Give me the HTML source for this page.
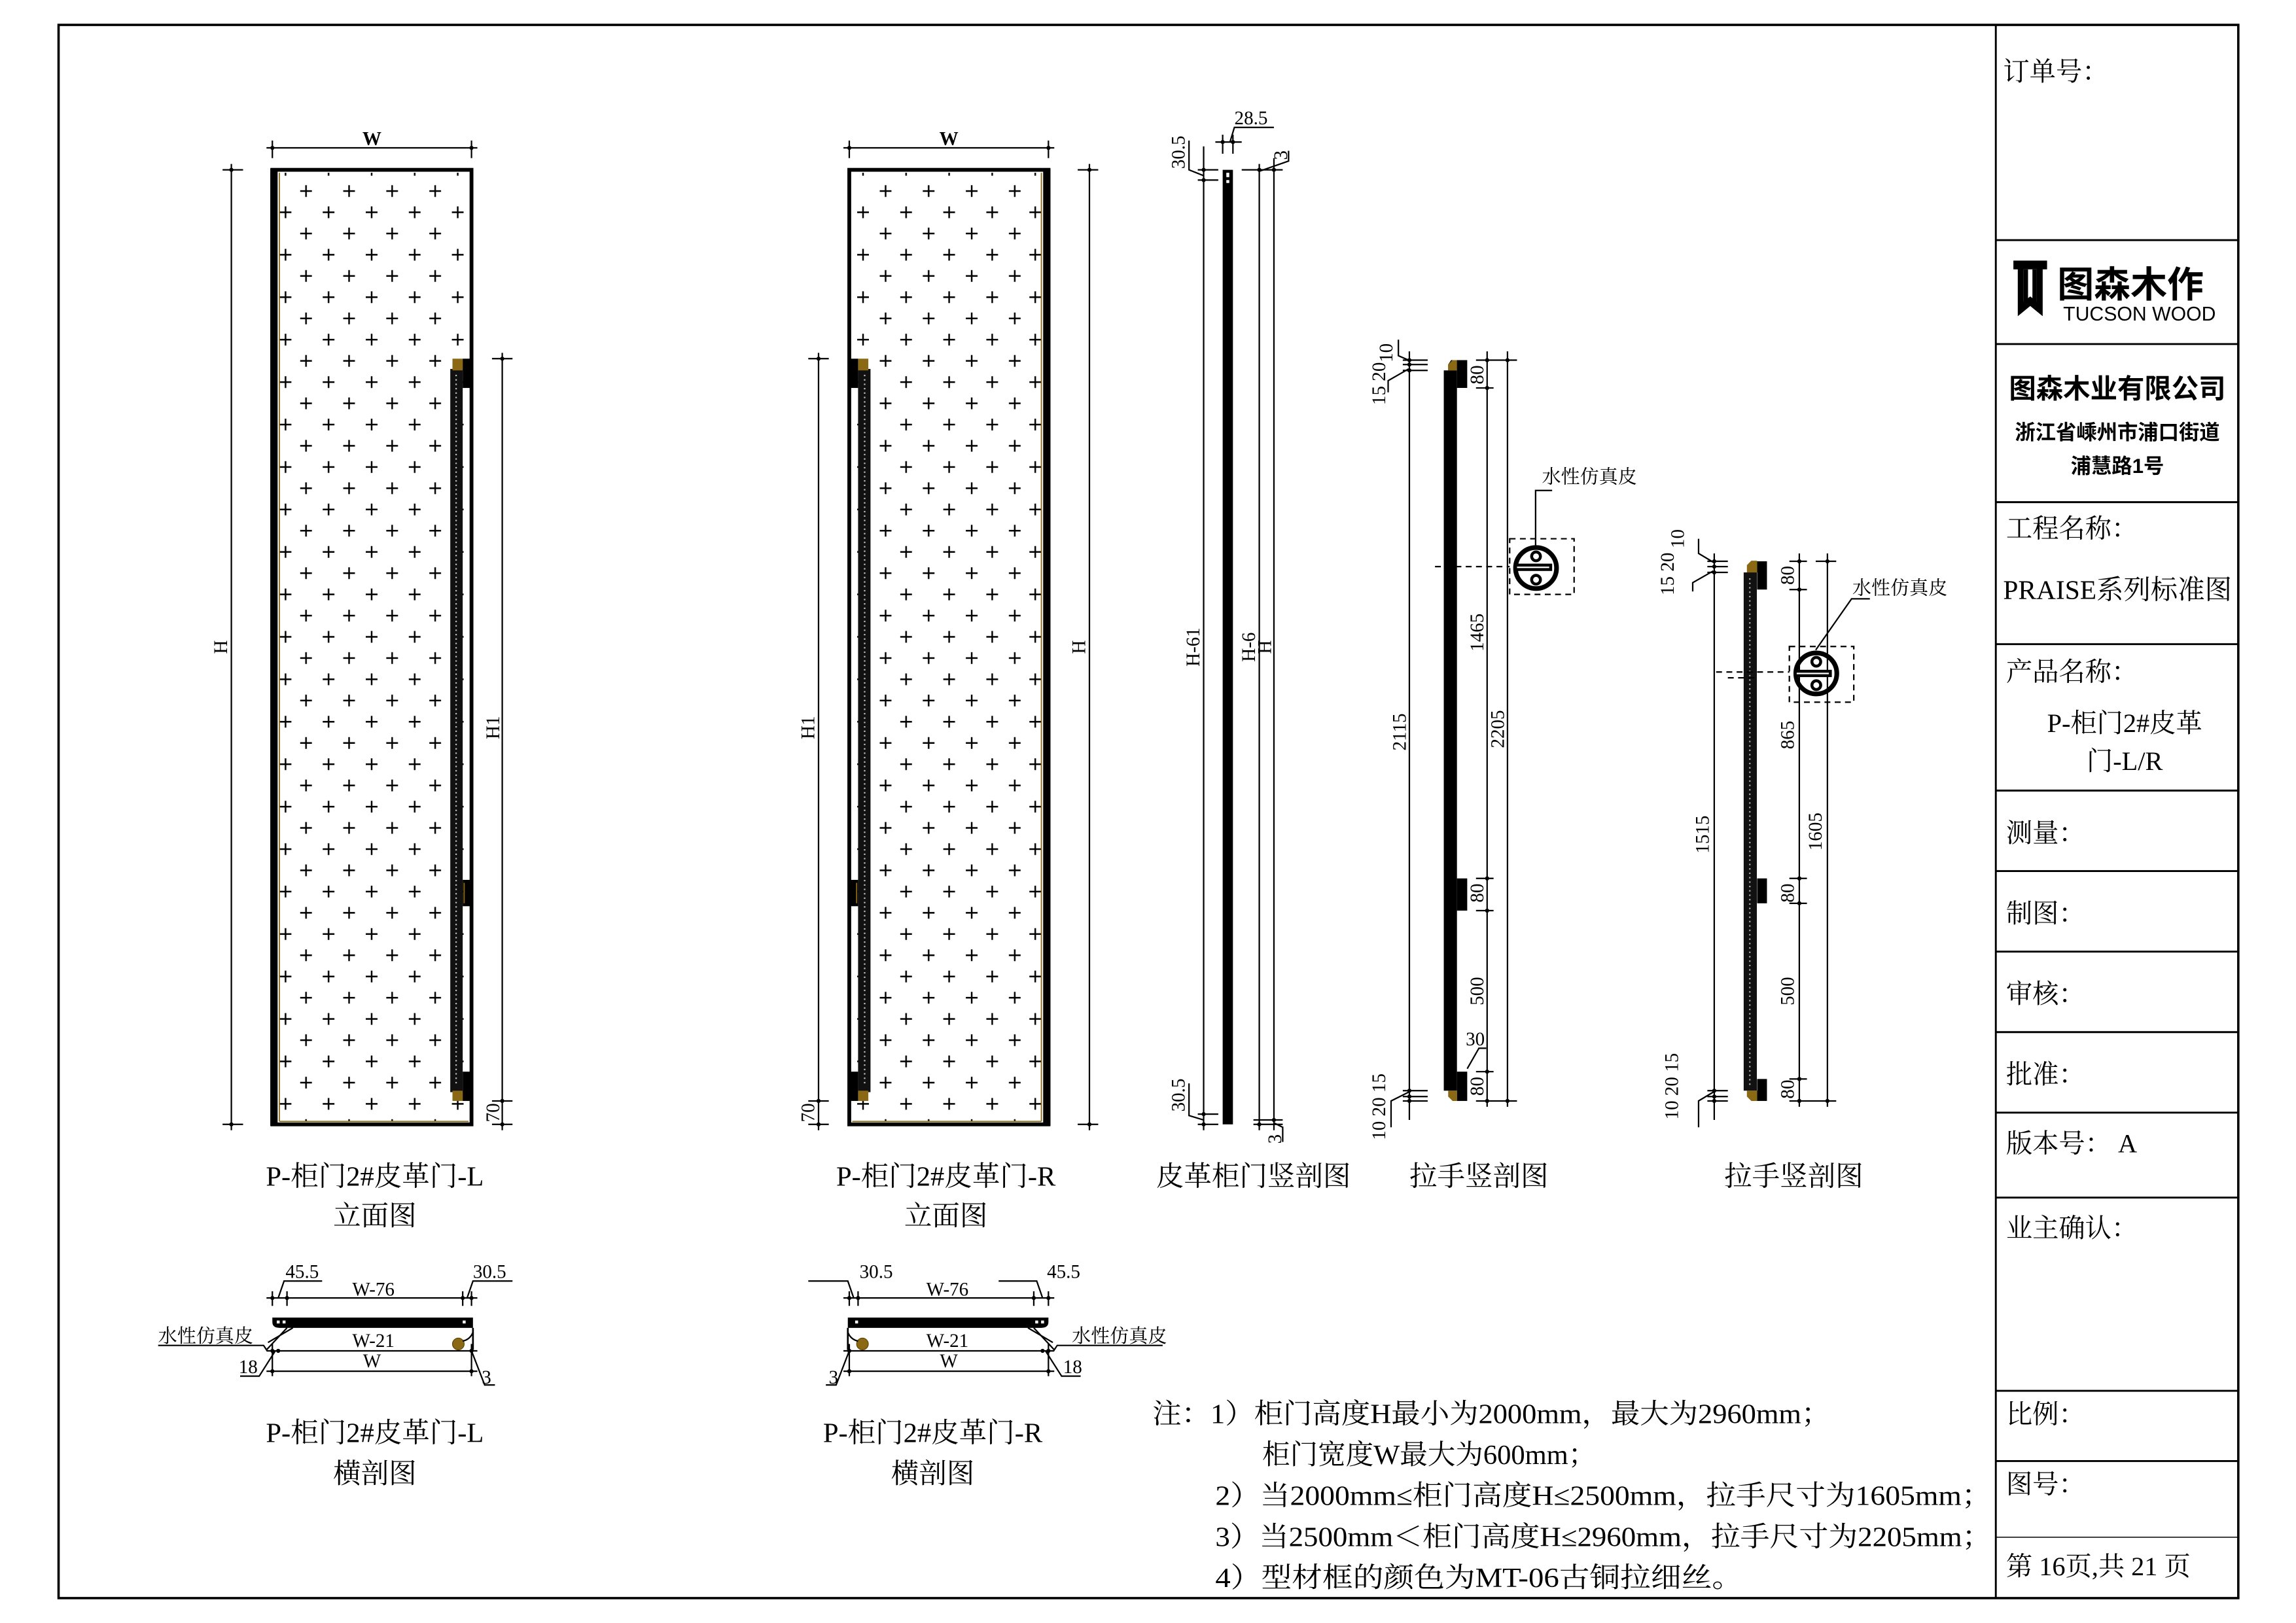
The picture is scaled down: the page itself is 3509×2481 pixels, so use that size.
<!DOCTYPE html>
<html><head><meta charset="utf-8">
<style>
html,body{margin:0;padding:0;background:#fff;}
svg{display:block;}
.s{font-family:"Liberation Serif","Noto Serif CJK SC",serif;fill:#000;}
.b{font-family:"Liberation Sans","Noto Sans CJK SC",sans-serif;font-weight:bold;fill:#000;}
.d{font-family:"Liberation Serif","Noto Serif CJK SC",serif;font-size:13px;fill:#000;}
</style></head>
<body>
<svg width="3509" height="2481" viewBox="0 0 1568 1108.6" preserveAspectRatio="none" xmlns="http://www.w3.org/2000/svg">
<defs>
<pattern id="cr" patternUnits="userSpaceOnUse" x="187.65" y="123.25" width="29.4" height="29">
<path d="M17.35 7.25h8M21.35 3.25v8M3.35 21.75h8M7.35 17.75v8" stroke="#000" stroke-width="1.1"/>
</pattern>
<g id="dot"><circle r="1.4" fill="#000"/></g>
</defs>
<rect width="1568" height="1108.6" fill="#fff"/>
<rect x="40" y="17" width="1488.6" height="1074.6" fill="none" stroke="#000" stroke-width="1.6"/>
<line x1="1363" y1="17" x2="1363" y2="1091.6" stroke="#000" stroke-width="1.3"/>
<g stroke="#000" stroke-width="1.3">
<line x1="1363" y1="164" x2="1528" y2="164"/>
<line x1="1363" y1="235" x2="1528" y2="235"/>
<line x1="1363" y1="343" x2="1528" y2="343"/>
<line x1="1363" y1="440" x2="1528" y2="440"/>
<line x1="1363" y1="540" x2="1528" y2="540"/>
<line x1="1363" y1="595" x2="1528" y2="595"/>
<line x1="1363" y1="650" x2="1528" y2="650"/>
<line x1="1363" y1="705" x2="1528" y2="705"/>
<line x1="1363" y1="760" x2="1528" y2="760"/>
<line x1="1363" y1="818" x2="1528" y2="818"/>
<line x1="1363" y1="950" x2="1528" y2="950"/>
<line x1="1363" y1="998" x2="1528" y2="998"/>
<line x1="1363" y1="1050" x2="1528" y2="1050" stroke-width="0.7"/>
</g>
<text class="s" x="1368" y="55" font-size="18">订单号：</text>
<path d="M1375 178h23v6h-3v32l-8.5-7-8.5 7v-32h-3z M1382 184v22l4.5-3.5 4.5 3.5v-22z" fill="#000" fill-rule="evenodd"/>
<path d="M1382 184h3v22h-3zM1388 184h3v22h-3z" fill="#000"/>
<text class="b" x="1405" y="203" font-size="25">图森木作</text>
<text x="1409" y="219" font-family="Liberation Sans,sans-serif" font-size="13.5" fill="#000">TUCSON WOOD</text>
<text class="b" x="1446" y="272" font-size="18.5" text-anchor="middle">图森木业有限公司</text>
<text class="b" x="1446" y="300" font-size="14" text-anchor="middle">浙江省嵊州市浦口街道</text>
<text class="b" x="1446" y="323" font-size="14" text-anchor="middle">浦慧路1号</text>
<text class="s" x="1370" y="367" font-size="18">工程名称：</text>
<text class="s" x="1368" y="409" font-size="18.5">PRAISE系列标准图</text>
<text class="s" x="1370" y="465" font-size="18">产品名称：</text>
<text class="s" x="1451" y="500" font-size="18" text-anchor="middle">P-柜门2#皮革</text>
<text class="s" x="1451" y="526" font-size="18" text-anchor="middle">门-L/R</text>
<text class="s" x="1370" y="575" font-size="18">测量：</text>
<text class="s" x="1370" y="630" font-size="18">制图：</text>
<text class="s" x="1370" y="685" font-size="18">审核：</text>
<text class="s" x="1370" y="740" font-size="18">批准：</text>
<text class="s" x="1370" y="787" font-size="18">版本号：  A</text>
<text class="s" x="1370" y="845" font-size="18">业主确认：</text>
<text class="s" x="1370" y="972" font-size="18">比例：</text>
<text class="s" x="1370" y="1020" font-size="18">图号：</text>
<text class="s" x="1370" y="1076" font-size="18">第 16页,共 21 页</text>

<g id="doorL">
<rect x="190" y="118" width="130" height="648" fill="url(#cr)"/>
<rect x="186" y="116" width="136" height="652" fill="none" stroke="#000" stroke-width="2.6"/>
<rect x="184.6" y="115" width="5" height="654" fill="#000"/>
<line x1="190.8" y1="118" x2="190.8" y2="766" stroke="#8B6914" stroke-width="0.8"/>
<line x1="190.8" y1="766" x2="320" y2="766" stroke="#8B6914" stroke-width="0.8"/>
<rect x="307.5" y="252" width="8.5" height="494" fill="#111"/>
<line x1="311.5" y1="256" x2="311.5" y2="742" stroke="#bbb" stroke-width="1" stroke-dasharray="1 2"/>
<rect x="309" y="245" width="7" height="8" fill="#8B6914"/>
<rect x="316" y="245" width="6" height="20" fill="#000"/>
<rect x="316" y="601" width="6" height="18" fill="#000"/>
<line x1="317" y1="603" x2="317" y2="617" stroke="#8B6914" stroke-width="0.8"/>
<rect x="309" y="745" width="7" height="7" fill="#8B6914"/>
<rect x="316" y="732" width="6" height="20" fill="#000"/>
<g stroke="#000" stroke-width="1">
<line x1="182" y1="101" x2="326" y2="101"/>
<line x1="186" y1="96" x2="186" y2="108"/><line x1="322" y1="96" x2="322" y2="108"/>
<line x1="158" y1="112" x2="158" y2="772"/>
<line x1="152" y1="116" x2="166" y2="116"/><line x1="152" y1="768" x2="166" y2="768"/>
<line x1="343" y1="241" x2="343" y2="772"/>
<line x1="336" y1="245" x2="350" y2="245"/><line x1="336" y1="752" x2="350" y2="752"/><line x1="336" y1="768" x2="350" y2="768"/>
</g>
<use href="#dot" x="186" y="101"/><use href="#dot" x="322" y="101"/>
<use href="#dot" x="158" y="116"/><use href="#dot" x="158" y="768"/>
<use href="#dot" x="343" y="245"/><use href="#dot" x="343" y="752"/><use href="#dot" x="343" y="768"/>
</g>
<g transform="translate(902,0) scale(-1,1)">
<use href="#doorL"/>
</g>
<text class="d" x="254" y="99" text-anchor="middle" font-weight="bold">W</text>
<text class="d" transform="translate(155,442) rotate(-90)" text-anchor="middle" font-size="14">H</text>
<text class="d" transform="translate(341,497) rotate(-90)" text-anchor="middle" font-size="14">H1</text>
<text class="d" transform="translate(341,760) rotate(-90)" text-anchor="middle">70</text>
<text class="d" x="648" y="99" text-anchor="middle" font-weight="bold">W</text>
<text class="d" transform="translate(741,442) rotate(-90)" text-anchor="middle" font-size="14">H</text>
<text class="d" transform="translate(556,497) rotate(-90)" text-anchor="middle" font-size="14">H1</text>
<text class="d" transform="translate(556,760) rotate(-90)" text-anchor="middle">70</text>

<rect x="835" y="116" width="7" height="652" fill="#000"/>
<rect x="837.5" y="118" width="2" height="3" fill="#fff"/><rect x="837.5" y="123" width="2" height="2" fill="#fff"/>
<g stroke="#000" stroke-width="1">
<line x1="822" y1="100" x2="822" y2="772"/>
<line x1="818" y1="116" x2="832" y2="116"/><line x1="818" y1="123" x2="832" y2="123"/>
<line x1="818" y1="761" x2="832" y2="761"/><line x1="818" y1="768" x2="832" y2="768"/>
<line x1="860" y1="112" x2="860" y2="772"/><line x1="870" y1="108" x2="870" y2="772"/>
<line x1="848" y1="116" x2="876" y2="116"/><line x1="856" y1="765" x2="876" y2="765"/><line x1="856" y1="768" x2="876" y2="768"/>
<line x1="830" y1="97" x2="848" y2="97"/>
<line x1="835" y1="92" x2="835" y2="105"/><line x1="842" y1="92" x2="842" y2="105"/>
<polyline points="840,97 843,87 870,87" fill="none"/>
<polyline points="822,120 812,116 812,96" fill="none"/>
<polyline points="860,117 880,110 880,103" fill="none"/>
<polyline points="822,765 812,762 812,740" fill="none"/>
<polyline points="870,767 876,770 876,780" fill="none"/>
</g>
<use href="#dot" x="822" y="116"/><use href="#dot" x="822" y="123"/><use href="#dot" x="835" y="97"/><use href="#dot" x="842" y="97"/>
<use href="#dot" x="860" y="116"/><use href="#dot" x="870" y="116"/><use href="#dot" x="822" y="761"/><use href="#dot" x="822" y="768"/><use href="#dot" x="860" y="768"/><use href="#dot" x="870" y="765"/>
<text class="d" x="843" y="85">28.5</text>
<text class="d" transform="translate(809,104) rotate(-90)" text-anchor="middle">30.5</text>
<text class="d" transform="translate(879,106) rotate(-90)" text-anchor="middle">3</text>
<text class="d" transform="translate(809,748) rotate(-90)" text-anchor="middle">30.5</text>
<text class="d" transform="translate(875,778) rotate(-90)" text-anchor="middle">3</text>
<text class="d" transform="translate(819,442) rotate(-90)" text-anchor="middle" font-size="14">H-61</text>
<text class="d" transform="translate(857,442) rotate(-90)" text-anchor="middle" font-size="14">H-6</text>
<text class="d" transform="translate(868,442) rotate(-90)" text-anchor="middle" font-size="14">H</text>

<rect x="986" y="253" width="9" height="492" fill="#000"/>
<path d="M991 246h11v19h-7v-12h-6v-4z" fill="#000"/>
<path d="M989 253v-4l3-3h3v7z" fill="#8B6914"/>
<rect x="995" y="600" width="7" height="22" fill="#000"/>
<rect x="995" y="732" width="7" height="20" fill="#000"/>
<path d="M989 745h6v7h-3l-3-3z" fill="#8B6914"/>
<g stroke="#000" stroke-width="1">
<line x1="962.5" y1="240" x2="962.5" y2="765"/>
<line x1="958" y1="246" x2="975" y2="246"/><line x1="958" y1="249" x2="975" y2="249"/><line x1="958" y1="253" x2="975" y2="253"/>
<line x1="958" y1="745" x2="975" y2="745"/><line x1="958" y1="749" x2="975" y2="749"/><line x1="958" y1="752" x2="975" y2="752"/>
<line x1="1015.6" y1="240" x2="1015.6" y2="756"/>
<line x1="1029.5" y1="240" x2="1029.5" y2="756"/>
<line x1="1008" y1="246" x2="1036" y2="246"/><line x1="1008" y1="265" x2="1020" y2="265"/>
<line x1="1008" y1="600" x2="1020" y2="600"/><line x1="1008" y1="622" x2="1020" y2="622"/>
<line x1="1008" y1="732" x2="1020" y2="732"/><line x1="1008" y1="752" x2="1036" y2="752"/>
<polyline points="962,246 955,243 955,232" fill="none"/>
<polyline points="962,252 948,260 948,268" fill="none"/>
<polyline points="962,746 950,752 950,770" fill="none"/>
<polyline points="1002,730 1010,716 1015,716" fill="none"/>
<polyline points="1048.7,373 1048.7,335 1060,335" fill="none"/>
</g>
<g stroke="#000" stroke-width="1" stroke-dasharray="4 3" fill="none">
<rect x="1031" y="368" width="44" height="38"/>
<line x1="980" y1="387" x2="1031" y2="387"/>
</g>
<circle cx="1049" cy="388" r="14" fill="none" stroke="#000" stroke-width="3.2"/>
<rect x="1035" y="385" width="25" height="5" fill="#000"/><line x1="1036" y1="387.5" x2="1058" y2="387.5" stroke="#fff" stroke-width="1"/>
<circle cx="1049" cy="380" r="3" fill="none" stroke="#000" stroke-width="2"/>
<circle cx="1049" cy="396" r="3" fill="none" stroke="#000" stroke-width="2"/>
<use href="#dot" x="962.5" y="246"/><use href="#dot" x="962.5" y="249"/><use href="#dot" x="962.5" y="253"/>
<use href="#dot" x="962.5" y="745"/><use href="#dot" x="962.5" y="749"/><use href="#dot" x="962.5" y="752"/>
<use href="#dot" x="1015.6" y="246"/><use href="#dot" x="1015.6" y="265"/><use href="#dot" x="1015.6" y="600"/><use href="#dot" x="1015.6" y="622"/><use href="#dot" x="1015.6" y="732"/><use href="#dot" x="1015.6" y="752"/>
<use href="#dot" x="1029.5" y="246"/><use href="#dot" x="1029.5" y="752"/>
<text class="d" transform="translate(951,241) rotate(-90)" text-anchor="middle">10</text>
<text class="d" transform="translate(946,262) rotate(-90)" text-anchor="middle">15 20</text>
<text class="d" transform="translate(946,756) rotate(-90)" text-anchor="middle">10 20 15</text>
<text class="d" transform="translate(960,500) rotate(-90)" text-anchor="middle">2115</text>
<text class="d" transform="translate(1013,256) rotate(-90)" text-anchor="middle">80</text>
<text class="d" transform="translate(1013,432) rotate(-90)" text-anchor="middle">1465</text>
<text class="d" transform="translate(1027,498) rotate(-90)" text-anchor="middle">2205</text>
<text class="d" transform="translate(1013,610) rotate(-90)" text-anchor="middle">80</text>
<text class="d" transform="translate(1013,677) rotate(-90)" text-anchor="middle">500</text>
<text class="d" transform="translate(1013,742) rotate(-90)" text-anchor="middle">80</text>
<text class="d" x="1001" y="714">30</text>
<text class="s" x="1053" y="330" font-size="13">水性仿真皮</text>

<rect x="1190.8" y="391" width="9" height="354" fill="#111"/>
<line x1="1195" y1="395" x2="1195" y2="742" stroke="#aaa" stroke-width="1" stroke-dasharray="1 2"/>
<rect x="1200" y="383.4" width="6.7" height="19.3" fill="#000"/>
<path d="M1193 391v-5l3-3h4v8z" fill="#8B6914"/>
<rect x="1200" y="600" width="6.7" height="17" fill="#000"/>
<rect x="1200" y="737" width="6.7" height="15" fill="#000"/>
<path d="M1193 745h7v7h-4l-3-3z" fill="#8B6914"/>
<g stroke="#000" stroke-width="1">
<line x1="1170.7" y1="378" x2="1170.7" y2="765"/>
<line x1="1166" y1="383.4" x2="1180" y2="383.4"/><line x1="1166" y1="387" x2="1180" y2="387"/><line x1="1166" y1="391" x2="1180" y2="391"/>
<line x1="1166" y1="745" x2="1180" y2="745"/><line x1="1166" y1="749" x2="1180" y2="749"/><line x1="1166" y1="752" x2="1180" y2="752"/>
<line x1="1228.8" y1="378" x2="1228.8" y2="756"/>
<line x1="1248" y1="378" x2="1248" y2="756"/>
<line x1="1222" y1="383.4" x2="1234" y2="383.4"/><line x1="1240" y1="383.4" x2="1254" y2="383.4"/>
<line x1="1222" y1="402.7" x2="1234" y2="402.7"/>
<line x1="1222" y1="600" x2="1234" y2="600"/><line x1="1222" y1="617" x2="1234" y2="617"/>
<line x1="1222" y1="737" x2="1234" y2="737"/><line x1="1222" y1="752" x2="1254" y2="752"/>
<polyline points="1170,384 1160,378 1160,368" fill="none"/>
<polyline points="1170,390 1156,398 1156,404" fill="none"/>
<polyline points="1170,746 1160,752 1160,770" fill="none"/>
<polyline points="1240,444 1264.5,409 1277,409" fill="none"/>
</g>
<g stroke="#000" stroke-width="1" stroke-dasharray="4 3" fill="none">
<rect x="1222" y="441.6" width="44" height="38"/>
<line x1="1172" y1="459" x2="1222" y2="459"/>
<line x1="1180" y1="463" x2="1198" y2="463"/>
</g>
<circle cx="1240.4" cy="460" r="14" fill="none" stroke="#000" stroke-width="3.2"/>
<rect x="1226" y="457.5" width="25" height="5" fill="#000"/><line x1="1227" y1="460" x2="1249" y2="460" stroke="#fff" stroke-width="1"/>
<circle cx="1240.4" cy="452" r="3" fill="none" stroke="#000" stroke-width="2"/>
<circle cx="1240.4" cy="468" r="3" fill="none" stroke="#000" stroke-width="2"/>
<use href="#dot" x="1170.7" y="383.4"/><use href="#dot" x="1170.7" y="387"/><use href="#dot" x="1170.7" y="391"/>
<use href="#dot" x="1170.7" y="745"/><use href="#dot" x="1170.7" y="749"/><use href="#dot" x="1170.7" y="752"/>
<use href="#dot" x="1228.8" y="383.4"/><use href="#dot" x="1228.8" y="402.7"/><use href="#dot" x="1228.8" y="600"/><use href="#dot" x="1228.8" y="617"/><use href="#dot" x="1228.8" y="737"/><use href="#dot" x="1228.8" y="752"/>
<use href="#dot" x="1248" y="383.4"/><use href="#dot" x="1248" y="752"/>
<text class="d" transform="translate(1150,368) rotate(-90)" text-anchor="middle">10</text>
<text class="d" transform="translate(1143,392) rotate(-90)" text-anchor="middle">15 20</text>
<text class="d" transform="translate(1146,742) rotate(-90)" text-anchor="middle">10 20 15</text>
<text class="d" transform="translate(1167,570) rotate(-90)" text-anchor="middle">1515</text>
<text class="d" transform="translate(1225,393) rotate(-90)" text-anchor="middle">80</text>
<text class="d" transform="translate(1225,502) rotate(-90)" text-anchor="middle">865</text>
<text class="d" transform="translate(1225,610) rotate(-90)" text-anchor="middle">80</text>
<text class="d" transform="translate(1225,677) rotate(-90)" text-anchor="middle">500</text>
<text class="d" transform="translate(1225,744) rotate(-90)" text-anchor="middle">80</text>
<text class="d" transform="translate(1244,568) rotate(-90)" text-anchor="middle">1605</text>
<text class="s" x="1265" y="406" font-size="13">水性仿真皮</text>

<g class="s" font-size="19" text-anchor="middle">
<text x="256" y="810">P-柜门2#皮革门-L</text>
<text x="256" y="837">立面图</text>
<text x="646" y="810">P-柜门2#皮革门-R</text>
<text x="646" y="837">立面图</text>
<text x="856" y="810">皮革柜门竖剖图</text>
<text x="1010" y="810">拉手竖剖图</text>
<text x="1225" y="810">拉手竖剖图</text>
<text x="256" y="985">P-柜门2#皮革门-L</text>
<text x="256" y="1013">横剖图</text>
<text x="637" y="985">P-柜门2#皮革门-R</text>
<text x="637" y="1013">横剖图</text>
</g>

<g id="xsL">
<path d="M186 900h137v7h-132q-5 0 -5 -4z" fill="#000"/>
<rect x="189" y="902" width="2" height="2" fill="#fff"/><rect x="193" y="902" width="2" height="2" fill="#fff"/><rect x="316" y="902" width="2" height="2" fill="#fff"/>
<circle cx="313" cy="918" r="4" fill="#8B6914" stroke="#5a4300" stroke-width="0.5"/>
<path d="M316 916q5-1 7-6" fill="none" stroke="#000" stroke-width="1"/>
<line x1="323" y1="907" x2="323" y2="922" stroke="#000" stroke-width="1.2"/>
<g stroke="#000" stroke-width="1">
<line x1="182" y1="886.6" x2="326" y2="886.6"/>
<line x1="186" y1="882" x2="186" y2="892"/><line x1="196" y1="882" x2="196" y2="892"/>
<line x1="316" y1="882" x2="316" y2="892"/><line x1="322" y1="882" x2="322" y2="892"/>
<line x1="182" y1="922.7" x2="326" y2="922.7"/>
<line x1="182" y1="936.6" x2="326" y2="936.6"/>
<line x1="186" y1="918" x2="186" y2="940"/><line x1="322" y1="918" x2="322" y2="940"/>
<polyline points="190,886.6 194,875 220,875" fill="none"/>
<polyline points="319,886.6 323,875 350,875" fill="none"/>
<polyline points="196,907 182,922 180,919 108,919" fill="none"/>
<line x1="200" y1="907" x2="183" y2="917"/>
<polyline points="188,922.7 177,940 164,940" fill="none"/>
<polyline points="322,922.7 331,946 338,946" fill="none"/>
</g>
<use href="#dot" x="186" y="886.6"/><use href="#dot" x="196" y="886.6"/><use href="#dot" x="316" y="886.6"/><use href="#dot" x="322" y="886.6"/>
<use href="#dot" x="186" y="922.7"/><use href="#dot" x="190" y="922.7"/><use href="#dot" x="186" y="936.6"/><use href="#dot" x="322" y="936.6"/><use href="#dot" x="322" y="922.7"/>
</g>
<text class="d" x="195" y="873">45.5</text>
<text class="d" x="323" y="873">30.5</text>
<text class="d" x="255" y="885" text-anchor="middle">W-76</text>
<text class="d" x="255" y="920" text-anchor="middle">W-21</text>
<text class="d" x="254" y="934" text-anchor="middle">W</text>
<text class="s" x="108" y="917" font-size="13">水性仿真皮</text>
<text class="d" x="163" y="938">18</text>
<text class="d" x="329" y="945">3</text>

<g transform="translate(902,0) scale(-1,1)">
<use href="#xsL"/>
</g>
<text class="d" x="587" y="873">30.5</text>
<text class="d" x="715" y="873">45.5</text>
<text class="d" x="647" y="885" text-anchor="middle">W-76</text>
<text class="d" x="647" y="920" text-anchor="middle">W-21</text>
<text class="d" x="648" y="934" text-anchor="middle">W</text>
<text class="s" x="732" y="917" font-size="13">水性仿真皮</text>
<text class="d" x="726" y="938">18</text>
<text class="d" x="566" y="945">3</text>

<g class="s" font-size="19">
<text x="787" y="972" textLength="463" lengthAdjust="spacingAndGlyphs">注：1）柜门高度H最小为2000mm，最大为2960mm；</text>
<text x="862" y="1000" textLength="228" lengthAdjust="spacingAndGlyphs">柜门宽度W最大为600mm；</text>
<text x="830" y="1028" textLength="530" lengthAdjust="spacingAndGlyphs">2）当2000mm≤柜门高度H≤2500mm，拉手尺寸为1605mm；</text>
<text x="830" y="1056" textLength="530" lengthAdjust="spacingAndGlyphs">3）当2500mm＜柜门高度H≤2960mm，拉手尺寸为2205mm；</text>
<text x="830" y="1084" textLength="360" lengthAdjust="spacingAndGlyphs">4）型材框的颜色为MT-06古铜拉细丝。</text>
</g>
</svg>
</body></html>
